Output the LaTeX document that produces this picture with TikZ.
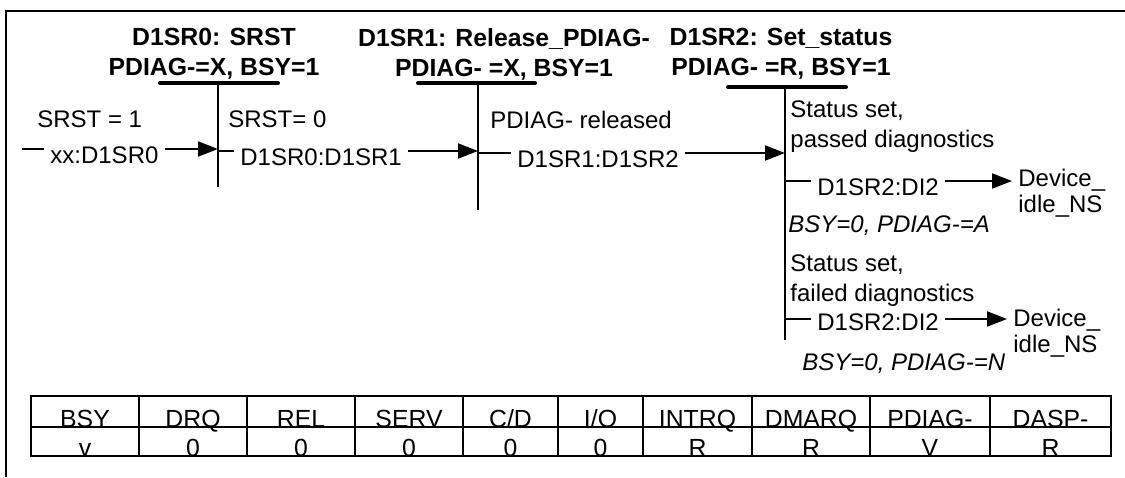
\documentclass[tikz,border=0pt]{standalone}
\usepackage{fontspec}
\setmainfont{Liberation Sans}
\usetikzlibrary{arrows.meta}
\tikzset{
  title/.style={font=\fontsize{12.4}{15}\selectfont\bfseries, align=center, inner sep=0pt, anchor=north},
  lbl/.style={font=\fontsize{12}{15}\selectfont, inner sep=0pt, anchor=base west, align=left},
  devlbl/.style={lbl, font=\fontsize{12}{13}\selectfont},
  cond/.style={lbl, font=\fontsize{12}{15}\selectfont\itshape},
  cell/.style={font=\fontsize{12.4}{14}\selectfont, inner sep=0pt, anchor=base},
  bar/.style={line width=2pt, line cap=round},
  stateline/.style={line width=1pt},
  arrow/.style={-{Triangle[length=10pt,width=7.5pt]}, line width=1pt, shorten <=3pt},
  stub/.style={line width=1pt, shorten >=3pt}
}
\begin{document}
\begin{tikzpicture}[x=0.5pt, y=-0.5pt]
  \useasboundingbox (0,0) rectangle (1125,477);
  % frame
  \draw[line width=1.2pt] (6,477) -- (6,11) -- (1125,11);

  % state headings
  \node[title] (t0) at (214,28) {D1SR0: SRST\\PDIAG-=X, BSY=1};
  \node[title] (t1) at (504,28) {D1SR1: Release\_PDIAG-\\PDIAG- =X, BSY=1};
  \node[title] (t2) at (781,28) {D1SR2: Set\_status\\PDIAG- =R, BSY=1};

  % state bars and lines
  \draw[bar] (160,83) -- (278,83);
  \draw[stateline] (218,83) -- (218,187);
  \draw[bar] (418,83) -- (535,83);
  \draw[stateline] (478,83) -- (478,210);
  \draw[bar] (728,87) -- (846,87);
  \draw[stateline] (785,87) -- (785,340);

  \coordinate (s0) at (22,149);
  \coordinate (a0) at (218,149);
  \coordinate (b1) at (218,151);
  \coordinate (a1) at (478,151);
  \coordinate (b2) at (478,153);
  \coordinate (a2) at (785,153);
  \coordinate (b3) at (785,181);
  \coordinate (b4) at (785,319);

  % into D1SR0
  \node[lbl] (c0) at (37,127) {SRST = 1};
  \node[lbl] (x0) at (50,163) {xx:D1SR0};
  \draw[stub] (s0) -- (x0.west |- s0);
  \draw[arrow] (x0.east |- a0) -- (a0);

  % D1SR0 to D1SR1
  \node[lbl] (c1) at (228,127) {SRST= 0};
  \node[lbl] (x1) at (240,165) {D1SR0:D1SR1};
  \draw[stub] (b1) -- (x1.west |- b1);
  \draw[arrow] (x1.east |- a1) -- (a1);

  % D1SR1 to D1SR2
  \node[lbl] (c2) at (490,128) {PDIAG- released};
  \node[lbl] (x2) at (517,167) {D1SR1:D1SR2};
  \draw[stub] (b2) -- (x2.west |- b2);
  \draw[arrow] (x2.east |- a2) -- (a2);

  % D1SR2 to DI2, passed
  \node[lbl] (c3) at (790,147) {Status set,\\passed diagnostics};
  \node[lbl] (x3) at (817,195) {D1SR2:DI2};
  \node[devlbl] (dev3) at (1018,212) {Device\_\\idle\_NS};
  \node[cond] (e3) at (788,232) {BSY=0, PDIAG-=A};
  \draw[stub] (b3) -- (x3.west |- b3);
  \draw[arrow, shorten >=3pt] (x3.east |- b3) -- (dev3.west |- b3);

  % D1SR2 to DI2, failed
  \node[lbl] (c4) at (790,301) {Status set,\\failed diagnostics};
  \node[lbl] (x4) at (817,330) {D1SR2:DI2};
  \node[devlbl] (dev4) at (1013,352) {Device\_\\idle\_NS};
  \node[cond] (e4) at (802,370) {BSY=0, PDIAG-=N};
  \draw[stub] (b4) -- (x4.west |- b4);
  \draw[arrow, shorten >=3pt] (x4.east |- b4) -- (dev4.west |- b4);

  % signal table
  \foreach \l/\r/\h/\v [count=\i] in {31/139/BSY/v, 139/247/DRQ/0, 247/355/REL/0,
      355/463/SERV/0, 463/558/{C/D}/0, 558/643/{I/O}/0, 643/752/INTRQ/R,
      752/870/DMARQ/R, 870/990/PDIAG-/V, 990/1111/DASP-/R} {
    \node[cell] (h\i) at ({(\l+\r)/2},427) {\h};
    \node[cell] (v\i) at ({(\l+\r)/2},456) {\v};
    \draw[stateline] (\l,396) rectangle (\r,456);
  }
  \draw[stateline] (31,427) -- (1111,427);
\end{tikzpicture}
\end{document}
